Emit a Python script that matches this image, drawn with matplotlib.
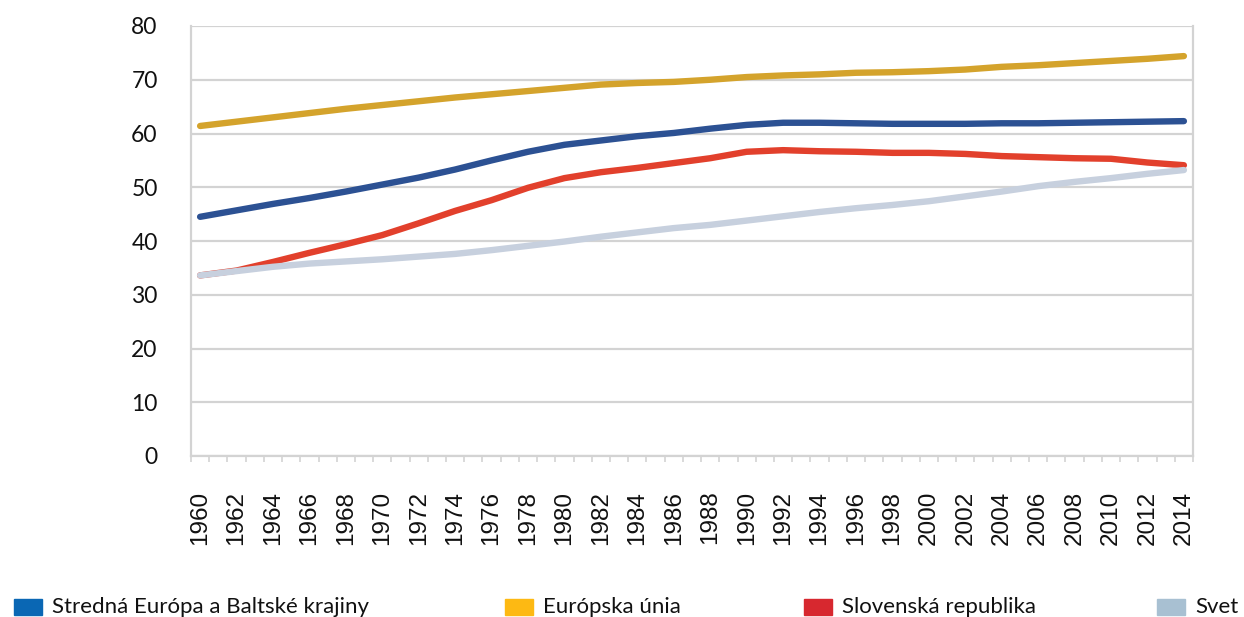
import numpy as np
import matplotlib
matplotlib.use("Agg")
import matplotlib.pyplot as plt
from matplotlib.patches import Rectangle
from matplotlib.ticker import FixedLocator

# Mestské obyvateľstvo (% z celkovej populácie), 1960 - 2014
years_2 = np.arange(1960, 2015, 2)
stredna_europa = [44.5, 45.7, 46.9, 48.0, 49.2, 50.5, 51.8, 53.3, 55.0, 56.6,
                  57.9, 58.7, 59.5, 60.1, 60.9, 61.6, 62.0, 62.0, 61.9, 61.8,
                  61.8, 61.8, 61.9, 61.9, 62.0, 62.1, 62.2, 62.3]
europska_unia = [61.4, 62.2, 63.0, 63.8, 64.6, 65.3, 66.0, 66.7, 67.3, 67.9,
                 68.5, 69.1, 69.4, 69.6, 70.0, 70.5, 70.8, 71.0, 71.3, 71.4,
                 71.6, 71.9, 72.4, 72.7, 73.1, 73.5, 73.9, 74.4]
slovensko = [33.6, 34.5, 36.1, 37.8, 39.4, 41.1, 43.3, 45.6, 47.6, 49.9,
             51.7, 52.8, 53.6, 54.5, 55.4, 56.6, 56.9, 56.7, 56.6, 56.4,
             56.4, 56.2, 55.8, 55.6, 55.4, 55.3, 54.6, 54.1]
svet = [33.6, 34.4, 35.2, 35.8, 36.2, 36.6, 37.1, 37.6, 38.3, 39.1,
        39.9, 40.8, 41.6, 42.4, 43.0, 43.8, 44.6, 45.4, 46.1, 46.7,
        47.4, 48.3, 49.2, 50.2, 51.0, 51.7, 52.5, 53.2]
series_names = ["Stredná Európa a Baltské krajiny", "Európska únia",
                "Slovenská republika", "Svet"]

line_colors = ["#2c5193", "#d4a32c", "#e2402c", "#c7d0de"]
legend_colors = ["#0a67b4", "#fdb913", "#d7282f", "#a8c0d2"]

fig = plt.figure(figsize=(12.44, 6.17), dpi=100)
ax = fig.add_axes([191 / 1244, 1 - 456 / 617, 1002 / 1244, 430 / 617])

grid_color = "#d3d3d3"
for v in range(0, 81, 10):
    ax.axhline(v, color=grid_color, lw=1.6, zorder=1)

for vals, col in zip([stredna_europa, europska_unia, slovensko, svet], line_colors):
    ax.plot(years_2, vals, color=col, lw=4.6, solid_capstyle="round",
            solid_joinstyle="round", zorder=3)

ax.set_xlim(1959.5, 2014.5)
ax.set_ylim(0, 80)

for s in ["left", "right", "bottom"]:
    ax.spines[s].set_color(grid_color)
    ax.spines[s].set_linewidth(1.6)
ax.spines["top"].set_visible(False)

ax.set_yticks(range(0, 81, 10))
ax.set_yticklabels([str(v) for v in range(0, 81, 10)], fontsize=16.5,
                   family="Lato", color="#111111")
ax.tick_params(axis="y", length=0, pad=24)

ax.set_xticks(years_2)
ax.set_xticklabels([str(y) for y in years_2], rotation=90, fontsize=17.5,
                   family="Liberation Sans", color="#111111")
ax.xaxis.set_minor_locator(FixedLocator(np.arange(1959.5, 2015, 1)))
ax.tick_params(axis="x", which="major", length=0, pad=25)
ax.tick_params(axis="x", which="minor", length=4, width=1.2, color=grid_color)

# legend along the bottom edge
leg_x = [14, 505, 804, 1157]
for x0, name, col in zip(leg_x, series_names, legend_colors):
    fig.patches.append(Rectangle((x0 / 1244, 1 - 615 / 617), 28 / 1244, 16 / 617,
                                 transform=fig.transFigure, color=col))
    fig.text((x0 + 38) / 1244, 1 - 607 / 617, name, fontsize=16, family="Lato",
             va="center", ha="left", color="#111111")

fig.savefig("out.png", dpi=100)
